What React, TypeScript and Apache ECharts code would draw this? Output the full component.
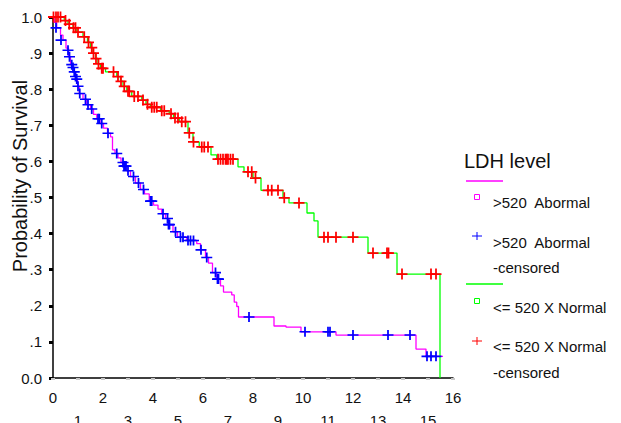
import React, { useEffect, useRef } from "react";
import * as echarts from "echarts";

// Kaplan-Meier step points [time (years), survival]
const abnormalSteps: [number, number][] = [
  [0, 1.0], [0.05, 0.985], [0.15, 0.97], [0.3, 0.95], [0.4, 0.936], [0.52, 0.914], [0.62, 0.89],
  [0.7, 0.868], [0.8, 0.848], [0.9, 0.828], [0.98, 0.808], [1.05, 0.788], [1.2, 0.772], [1.35, 0.757],
  [1.5, 0.745], [1.62, 0.73], [1.75, 0.718], [1.88, 0.705], [2.02, 0.692], [2.18, 0.678], [2.3, 0.668],
  [2.38, 0.632], [2.48, 0.622], [2.6, 0.61], [2.72, 0.597], [2.8, 0.587], [2.95, 0.574], [3.1, 0.558],
  [3.3, 0.54], [3.5, 0.522], [3.66, 0.51], [3.85, 0.49], [4.02, 0.479], [4.2, 0.468], [4.35, 0.455],
  [4.5, 0.442], [4.62, 0.425], [4.8, 0.405], [4.98, 0.39], [5.35, 0.381], [5.75, 0.372], [5.9, 0.355],
  [6.1, 0.334], [6.22, 0.318], [6.38, 0.292], [6.55, 0.274], [6.7, 0.255], [6.82, 0.238], [7.15, 0.23],
  [7.25, 0.21], [7.35, 0.198], [7.42, 0.169], [8.84, 0.144], [9.32, 0.141], [9.92, 0.128], [11.32, 0.119],
  [14.52, 0.08], [14.92, 0.06], [15.6, 0.06],
];

const abnormalCensored: [number, number][] = [
  [0.12, 0.97], [0.32, 0.936], [0.6, 0.908], [0.66, 0.89], [0.75, 0.868], [0.8, 0.86], [0.85, 0.848],
  [0.9, 0.835], [0.95, 0.828], [1.0, 0.808], [1.07, 0.788], [1.3, 0.772], [1.4, 0.757], [1.55, 0.745],
  [1.8, 0.718], [1.85, 0.718], [1.95, 0.705], [2.2, 0.678], [2.55, 0.622], [2.8, 0.597], [2.84, 0.587],
  [2.88, 0.587], [2.92, 0.587], [3.0, 0.574], [3.22, 0.558], [3.42, 0.54], [3.62, 0.522], [3.9, 0.49],
  [3.95, 0.49], [4.4, 0.455], [4.58, 0.442], [4.62, 0.425], [4.66, 0.425], [4.9, 0.405], [5.1, 0.39],
  [5.2, 0.39], [5.4, 0.381], [5.5, 0.381], [5.62, 0.381], [5.92, 0.355], [6.15, 0.334], [6.5, 0.292],
  [6.58, 0.274], [6.62, 0.274], [7.84, 0.169], [10.08, 0.128], [11.0, 0.128], [11.08, 0.128],
  [12.0, 0.119], [13.4, 0.119], [14.28, 0.119], [14.96, 0.06], [15.12, 0.06], [15.32, 0.06],
];

const normalSteps: [number, number][] = [
  [0, 1.0], [0.45, 0.99], [0.6, 0.98], [0.8, 0.97], [0.95, 0.958], [1.2, 0.945], [1.38, 0.93],
  [1.5, 0.915], [1.6, 0.9], [1.7, 0.885], [1.8, 0.87], [1.9, 0.858], [2.1, 0.848], [2.55, 0.835],
  [2.7, 0.822], [2.8, 0.808], [2.95, 0.794], [3.15, 0.78], [3.55, 0.77], [3.72, 0.758], [3.9, 0.75],
  [4.3, 0.74], [4.65, 0.732], [4.82, 0.72], [5.05, 0.71], [5.4, 0.679], [5.6, 0.654], [5.85, 0.64],
  [6.32, 0.618], [6.55, 0.606], [7.4, 0.585], [7.64, 0.571], [8.0, 0.554], [8.32, 0.52], [9.2, 0.499],
  [9.44, 0.485], [10.16, 0.457], [10.44, 0.435], [10.6, 0.39], [12.6, 0.346], [13.76, 0.288], [15.48, 0],
];

const normalCensored: [number, number][] = [
  [0.02, 1.0], [0.12, 1.0], [0.2, 1.0], [0.3, 1.0], [0.5, 0.99], [0.65, 0.98], [0.82, 0.97], [0.9, 0.97],
  [1.0, 0.958], [1.25, 0.945], [1.42, 0.93], [1.55, 0.915], [1.62, 0.9], [1.72, 0.885], [1.82, 0.87],
  [1.95, 0.858], [2.0, 0.858], [2.42, 0.848], [2.6, 0.835], [2.72, 0.822], [2.85, 0.808], [3.0, 0.794],
  [3.05, 0.794], [3.25, 0.78], [3.4, 0.78], [3.6, 0.77], [3.78, 0.758], [3.95, 0.75], [4.05, 0.75],
  [4.15, 0.75], [4.35, 0.74], [4.45, 0.74], [4.72, 0.732], [4.88, 0.72], [5.0, 0.72], [5.15, 0.71],
  [5.3, 0.71], [5.45, 0.679], [5.62, 0.654], [5.95, 0.64], [6.05, 0.64], [6.2, 0.64], [6.6, 0.606],
  [6.7, 0.606], [6.8, 0.606], [6.9, 0.606], [6.95, 0.606], [7.0, 0.606], [7.1, 0.606], [7.2, 0.606],
  [7.8, 0.571], [7.95, 0.571], [8.1, 0.554], [8.6, 0.52], [8.75, 0.52], [9.0, 0.52], [9.25, 0.499],
  [9.84, 0.485], [10.84, 0.39], [11.0, 0.39], [11.32, 0.39], [12.0, 0.39], [12.8, 0.346], [13.36, 0.346],
  [13.42, 0.346], [13.96, 0.288], [15.12, 0.288], [15.32, 0.288],
];

const legendTitle = "LDH level";
const legendLabels = [">520  Abormal", ">520  Abormal", "-censored", "<= 520 X Normal", "<= 520 X Normal", "-censored"];
const yTitle = "Probability of Survival";

const PLUS = "path://M0,4.2H10V5.8H0Z M4.2,0H5.8V10H4.2Z";
const FONT = "'Liberation Sans', Arial, sans-serif";
const TXT = "#111";

export default function App() {
  const ref = useRef<HTMLDivElement>(null);
  useEffect(() => {
    if (!ref.current) return;
    const chart = echarts.init(ref.current, undefined, { renderer: "svg" });
    const textEl = (x: number, y: number, text: string, size = 15) => ({
      type: "text",
      x,
      y,
      style: { text, fill: TXT, font: `${size}px ${FONT}`, verticalAlign: "middle", align: "left" },
    });
    const plus = (cx: number, cy: number, color: string) => ({
      type: "group",
      children: [
        { type: "line", shape: { x1: cx - 5, y1: cy, x2: cx + 5, y2: cy }, style: { stroke: color, lineWidth: 1 } },
        { type: "line", shape: { x1: cx, y1: cy - 4, x2: cx, y2: cy + 4 }, style: { stroke: color, lineWidth: 1 } },
      ],
    });
    chart.setOption({
      animation: false,
      backgroundColor: "#fff",
      grid: { left: 53, right: 168, top: 17, bottom: 45, containLabel: false, outerBoundsMode: "none" },
      xAxis: {
        type: "value",
        min: 0,
        max: 16,
        interval: 1,
        axisLine: { show: true, lineStyle: { color: "#000", width: 1.5 } },
        axisTick: { show: true, length: 2, lineStyle: { color: "#c8c8c8", width: 4 } },
        splitLine: { show: false },
        axisLabel: {
          interval: 0,
          margin: 8,
          fontSize: 15,
          fontFamily: FONT,
          color: TXT,
          lineHeight: 23,
          formatter: (v: number) => (Math.round(v) % 2 === 1 ? "\n" + Math.round(v) : String(Math.round(v))),
        },
      },
      yAxis: {
        type: "value",
        min: 0,
        max: 1,
        interval: 0.1,
        axisLine: { show: true, lineStyle: { color: "#000", width: 1.5 } },
        axisTick: { show: true, length: 4, lineStyle: { color: "#000", width: 3 } },
        splitLine: { show: false },
        axisLabel: {
          margin: 11,
          fontSize: 15,
          fontFamily: FONT,
          color: TXT,
          formatter: (v: number) => {
            const k = Math.round(v * 10);
            if (k === 0) return "0.0";
            if (k === 10) return "1.0";
            return "." + k;
          },
        },
      },
      series: [
        {
          type: "line",
          name: ">520  Abormal",
          data: abnormalSteps,
          step: "end",
          showSymbol: false,
          lineStyle: { color: "#FF00FF", width: 1.3 },
          z: 2,
        },
        {
          type: "line",
          name: "<= 520 X Normal",
          data: normalSteps,
          step: "end",
          showSymbol: false,
          lineStyle: { color: "#00FF00", width: 1.3 },
          z: 2,
        },
        {
          type: "scatter",
          name: ">520  Abormal-censored",
          data: abnormalCensored,
          symbol: PLUS,
          symbolSize: [11, 10],
          itemStyle: { color: "#0000FF", opacity: 1 },
          z: 3,
          clip: false,
        },
        {
          type: "scatter",
          name: "<= 520 X Normal-censored",
          data: normalCensored,
          symbol: PLUS,
          symbolSize: [11, 11],
          itemStyle: { color: "#FF0000", opacity: 1 },
          z: 4,
          clip: false,
        },
      ],
      graphic: [
        {
          type: "text",
          x: 20,
          y: 176,
          rotation: Math.PI / 2,
          style: { text: yTitle, fill: TXT, font: `20px ${FONT}`, align: "center", verticalAlign: "middle" },
        },
        textEl(464, 161, legendTitle, 20),
        { type: "line", shape: { x1: 466, y1: 181, x2: 503, y2: 181 }, style: { stroke: "#FF00FF", lineWidth: 1.3 } },
        { type: "rect", shape: { x: 474.5, y: 194.5, width: 5, height: 5 }, style: { fill: "none", stroke: "#FF00FF", lineWidth: 1 } },
        textEl(493, 202, legendLabels[0]),
        plus(477, 236, "#0000FF"),
        textEl(493, 242, legendLabels[1]),
        textEl(493, 267, legendLabels[2]),
        { type: "line", shape: { x1: 466, y1: 284, x2: 503, y2: 284 }, style: { stroke: "#00FF00", lineWidth: 1.3 } },
        { type: "rect", shape: { x: 474.5, y: 298.5, width: 5, height: 5 }, style: { fill: "none", stroke: "#00FF00", lineWidth: 1 } },
        textEl(493, 307, legendLabels[3]),
        plus(477, 341, "#FF0000"),
        textEl(493, 346, legendLabels[4]),
        textEl(493, 372, legendLabels[5]),
      ],
    });
    return () => chart.dispose();
  }, []);
  return (
    <div
      ref={ref}
      style={{ position: "fixed", left: 0, top: 0, width: 621, height: 423, background: "#fff" }}
    />
  );
}
